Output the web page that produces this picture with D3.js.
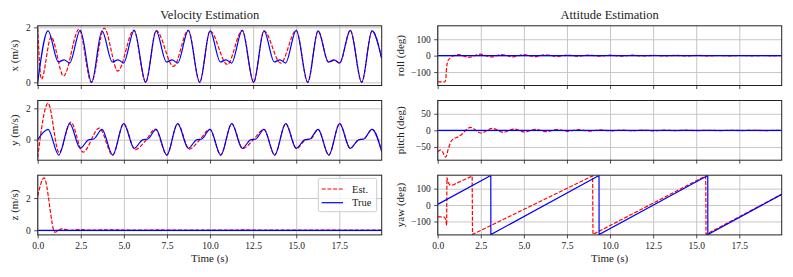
<!DOCTYPE html>
<html>
<head>
<meta charset="utf-8">
<script src="https://cdn.jsdelivr.net/npm/d3@7"></script>
<style>
    body { margin: 0; background: #fff; }
    svg text { font-family: "Liberation Serif", "DejaVu Serif", serif; fill: #222; }
</style>
</head>
<body>
<div id="chart"></div>
<script>
const timeTicks = [0, 2.5, 5, 7.5, 10, 12.5, 15, 17.5];
const tEnd = 19.96;
const seriesNames = ["Est.", "True"];

// velocity x (m/s), [time, value]
const vxTrue = [[0,0],[0.6,1.87],[1.2,0.74],[1.53,0.82],[1.85,0.70],[2.47,1.89],
    [3.13,0],[3.73,1.87],[4.33,0.74],[4.66,0.82],[4.98,0.70],[5.6,1.89],
    [6.27,0],[6.87,1.87],[7.47,0.74],[7.8,0.82],[8.12,0.70],[8.74,1.89],
    [9.4,0],[10.0,1.87],[10.6,0.74],[10.93,0.82],[11.25,0.70],[11.87,1.89],
    [12.53,0],[13.13,1.87],[13.73,0.74],[14.06,0.82],[14.38,0.70],[15.0,1.89],
    [15.67,0],[16.27,1.87],[16.87,0.74],[17.2,0.82],[17.52,0.70],[18.14,1.89],
    [18.8,0],[19.4,1.87],[19.96,0.86]];
const vxEst = [[0,1.96],[0.22,0.11],[0.78,1.65],[1.5,0.23],[2.4,1.93],[3.11,0],
    [3.86,1.97],[4.65,0.41],[5.58,1.9],[6.26,0],[6.88,1.88],[7.88,0.58],[8.74,1.89],
    [9.4,0],[10.0,1.87],[11.0,0.65],[11.87,1.89],[12.53,0],[13.13,1.87],[14.1,0.7],
    [15.0,1.89],[15.67,0],[16.27,1.87],[16.87,0.73],[17.2,0.8],[17.52,0.7],[18.14,1.89],
    [18.8,0],[19.4,1.87],[19.96,0.86]];

// velocity y (m/s)
const vyTrue = [[0,0],[0.6,0.66],[1.22,-0.98],[1.86,1.02],[2.47,-0.55],[2.95,-0.01],[3.25,0.04],
    [3.73,0.66],[4.35,-0.98],[4.99,1.02],[5.6,-0.55],[6.09,-0.01],[6.39,0.04],
    [6.87,0.66],[7.49,-0.98],[8.12,1.02],[8.74,-0.55],[9.22,-0.01],[9.52,0.04],
    [10.0,0.66],[10.62,-0.98],[11.26,1.02],[11.87,-0.55],[12.35,-0.01],[12.65,0.04],
    [13.13,0.66],[13.75,-0.98],[14.39,1.02],[15.0,-0.55],[15.49,-0.01],[15.79,0.04],
    [16.27,0.66],[16.89,-0.98],[17.52,1.02],[18.13,-0.55],[18.62,-0.01],[18.92,0.04],
    [19.4,0.66],[19.96,-0.75]];
const vyEst = [[0,-1.14],[0.6,2.33],[1.24,-0.83],[1.92,1.12],[2.63,-0.79],[3.58,0.74],
    [4.35,-0.98],[4.99,1.02],[5.66,-0.64],[6.25,-0.08],[6.83,0.67],[7.49,-0.98],[8.12,1.02],
    [8.8,-0.6],[9.38,-0.04],[9.99,0.66],[10.62,-0.98],[11.26,1.02],[11.9,-0.57],[12.5,-0.02],
    [13.13,0.66],[13.75,-0.98],[14.39,1.02],[15.02,-0.56],[15.55,-0.01],[15.85,0.04],
    [16.27,0.66],[16.89,-0.98],[17.52,1.02],[18.13,-0.55],[18.62,-0.01],[18.92,0.04],
    [19.4,0.66],[19.96,-0.75]];

// velocity z (m/s)
const vzTrue = [[0,0],[19.96,0]];
const vzEst = [[0,2.12],[0.37,3.24],[1.0,-0.12],[1.4,0.09],[1.85,0.0],[2.4,0.04],[3.1,0.01],
    [4.2,0.03],[5.5,0.01],[7,0.02],[9,0.01],[12,0.02],[16,0.01],[19.96,0.01]];

// roll (deg)
const rollTrue = [[0,0],[19.96,0]];
const rollEst = [[0,-160],[0.42,-160],[0.47,-140],[0.52,-70],[0.6,-30],[0.75,-12],[0.95,0],
    [1.2,7],[1.8,-10],[2.47,9],[3.1,-8],[3.72,7],[4.36,-7],[5.0,6],[5.62,-6],[6.25,5],
    [6.9,-5],[7.5,4],[8.13,-4],[8.75,4],[9.4,-3],[10.0,3],[10.65,-3],[11.28,3],[11.9,-2],
    [12.53,2],[13.17,-2],[13.8,2],[14.43,-2],[15.05,1.5],[15.7,-1.5],[16.3,1],[16.95,-1],
    [17.58,1],[18.2,-1],[18.85,1],[19.45,-1],[19.96,0.5]];

// pitch (deg)
const pitchTrue = [[0,0],[19.96,0]];
const pitchEst = [[0,-65],[0.18,-59],[0.3,-66],[0.46,-81],[0.62,-55],[0.78,-33],[0.95,-25],
    [1.2,-19],[1.42,-11],[1.64,1],[1.9,9],[2.5,-8],[3.17,6],[3.8,-6],[4.42,4],[5.05,-5],
    [5.65,3],[6.3,-4],[6.9,2.5],[7.55,-3],[8.15,2],[8.8,-2.5],[9.4,1.5],[10.05,-2],[10.65,1],
    [11.3,-1.5],[11.9,1],[12.55,-1.5],[13.15,0.5],[13.8,-1],[14.4,0.5],[15.05,-1],[15.7,0.3],
    [16.3,-1],[16.95,0.2],[17.6,-0.8],[18.2,0.2],[18.85,-0.6],[19.96,0]];

// yaw (deg), wraps at +/-180
const yawTrue = [[0,4],[3.08,180],[3.085,-180],[9.36,180],[9.365,-180],
    [15.67,180],[15.675,-180],[19.96,65]];
const yawEst = [[0,-72],[0.38,-73],[0.44,-82],[0.49,-105],[0.52,-125],[0.535,168],[0.6,140],
    [0.7,122],[0.85,121],[2.0,177],[2.02,-179],[8.99,178],[9.01,-179],
    [15.55,178],[15.57,-179],[19.96,66]];

const width = 793;
const height = 277;
const rowTop = [25.8, 100.5, 175.2];
const rowH = 59.7;
const cols = [
    { x0: 37.7, x1: 381.7, title: "Velocity Estimation", labelX: 14 },
    { x0: 437.7, x1: 781.7, title: "Attitude Estimation", labelX: 400 }
];

const panels = [
    { col: 0, row: 0, label: "x (m/s)", domain: [-0.115, 2.055], ticks: [0, 2], est: vxEst, truth: vxTrue },
    { col: 0, row: 1, label: "y (m/s)", domain: [-1.31, 2.5], ticks: [0, 2], est: vyEst, truth: vyTrue },
    { col: 0, row: 2, label: "z (m/s)", domain: [-0.285, 3.41], ticks: [0, 2], est: vzEst, truth: vzTrue, legend: true },
    { col: 1, row: 0, label: "roll (deg)", domain: [-182, 182], ticks: [-100, 0, 100], est: rollEst, truth: rollTrue },
    { col: 1, row: 1, label: "pitch (deg)", domain: [-90, 90], ticks: [-50, 0, 50], est: pitchEst, truth: pitchTrue },
    { col: 1, row: 2, label: "yaw (deg)", domain: [-182, 182], ticks: [-100, 0, 100], est: yawEst, truth: yawTrue, linear: true }
];

const svg = d3.select("#chart")
    .append("svg")
    .attr("width", width)
    .attr("height", height);

// column titles
cols.forEach(c => {
    svg.append("text")
        .attr("x", (c.x0 + c.x1) / 2)
        .attr("y", 19)
        .attr("text-anchor", "middle")
        .style("font-size", "12.5px")
        .text(c.title);

    svg.append("text")
        .attr("x", (c.x0 + c.x1) / 2)
        .attr("y", 262)
        .attr("text-anchor", "middle")
        .style("font-size", "11px")
        .text("Time (s)");
});

panels.forEach((p, i) => {
    const c = cols[p.col];
    const w = c.x1 - c.x0;
    const top = rowTop[p.row];

    const x = d3.scaleLinear().domain([0, tEnd]).range([0, w]);
    const y = d3.scaleLinear().domain(p.domain).range([rowH, 0]);

    const g = svg.append("g")
        .attr("transform", `translate(${c.x0},${top})`);

    g.append("clipPath")
        .attr("id", `clip${i}`)
        .append("rect")
        .attr("width", w)
        .attr("height", rowH);

    // grid
    g.append("g")
        .attr("transform", `translate(0,${rowH})`)
        .call(d3.axisBottom(x).tickValues(timeTicks).tickSize(-rowH).tickFormat(""))
        .call(s => s.select(".domain").remove())
        .selectAll("line")
        .attr("stroke", "#c6c6c6")
        .attr("stroke-width", 1);

    g.append("g")
        .call(d3.axisLeft(y).tickValues(p.ticks).tickSize(-w).tickFormat(""))
        .call(s => s.select(".domain").remove())
        .selectAll("line")
        .attr("stroke", "#c6c6c6")
        .attr("stroke-width", 1);

    const line = d3.line()
        .x(d => x(d[0]))
        .y(d => y(d[1]))
        .curve(p.linear ? d3.curveLinear : d3.curveMonotoneX);

    const plot = g.append("g").attr("clip-path", `url(#clip${i})`);

    plot.append("path")
        .datum(p.est)
        .attr("d", line)
        .attr("fill", "none")
        .attr("stroke", "#ff0000")
        .attr("stroke-width", 1.2)
        .attr("stroke-dasharray", "4,1.7");

    plot.append("path")
        .datum(p.truth)
        .attr("d", line)
        .attr("fill", "none")
        .attr("stroke", "#0000ff")
        .attr("stroke-width", 1.2);

    // frame
    g.append("rect")
        .attr("width", w)
        .attr("height", rowH)
        .attr("fill", "none")
        .attr("stroke", "#222")
        .attr("stroke-width", 1);

    // ticks
    const xAxis = g.append("g")
        .attr("transform", `translate(0,${rowH})`)
        .call(d3.axisBottom(x)
            .tickValues(timeTicks)
            .tickSize(3.5)
            .tickPadding(3.5)
            .tickFormat(p.row === 2 ? d3.format(".1f") : ""));
    xAxis.select(".domain").remove();

    const yAxis = g.append("g")
        .call(d3.axisLeft(y)
            .tickValues(p.ticks)
            .tickSize(3.5)
            .tickPadding(3.5)
            .tickFormat(d3.format("d")));
    yAxis.select(".domain").remove();

    [xAxis, yAxis].forEach(a => {
        a.selectAll("line").attr("stroke", "#222").attr("stroke-width", 0.8);
        a.selectAll("text")
            .style("font-family", "\"Liberation Serif\", \"DejaVu Serif\", serif")
            .style("font-size", "9.5px")
            .attr("fill", "#222");
    });

    // y label
    svg.append("text")
        .attr("transform", `translate(${c.labelX},${top + rowH / 2}) rotate(-90)`)
        .attr("text-anchor", "middle")
        .attr("dominant-baseline", "central")
        .style("font-size", "11px")
        .text(p.label);

    if (p.legend) {
        const lx = 318.3 - c.x0;
        const ly = 178.3 - top;
        const lg = g.append("g").attr("transform", `translate(${lx},${ly})`);

        lg.append("rect")
            .attr("width", 58.4)
            .attr("height", 33.4)
            .attr("rx", 2)
            .attr("fill", "#fff")
            .attr("fill-opacity", 0.8)
            .attr("stroke", "#cccccc")
            .attr("stroke-width", 1);

        seriesNames.forEach((name, k) => {
            const yy = 10.7 + k * 13.7;
            lg.append("line")
                .attr("x1", 3.4)
                .attr("x2", 24.7)
                .attr("y1", yy)
                .attr("y2", yy)
                .attr("stroke", k === 0 ? "#ff0000" : "#0000ff")
                .attr("stroke-width", 1.2)
                .attr("stroke-dasharray", k === 0 ? "4,1.7" : null);

            lg.append("text")
                .attr("x", 33.7)
                .attr("y", yy + 3.6)
                .style("font-size", "10.5px")
                .text(name);
        });
    }
});
</script>
</body>
</html>
